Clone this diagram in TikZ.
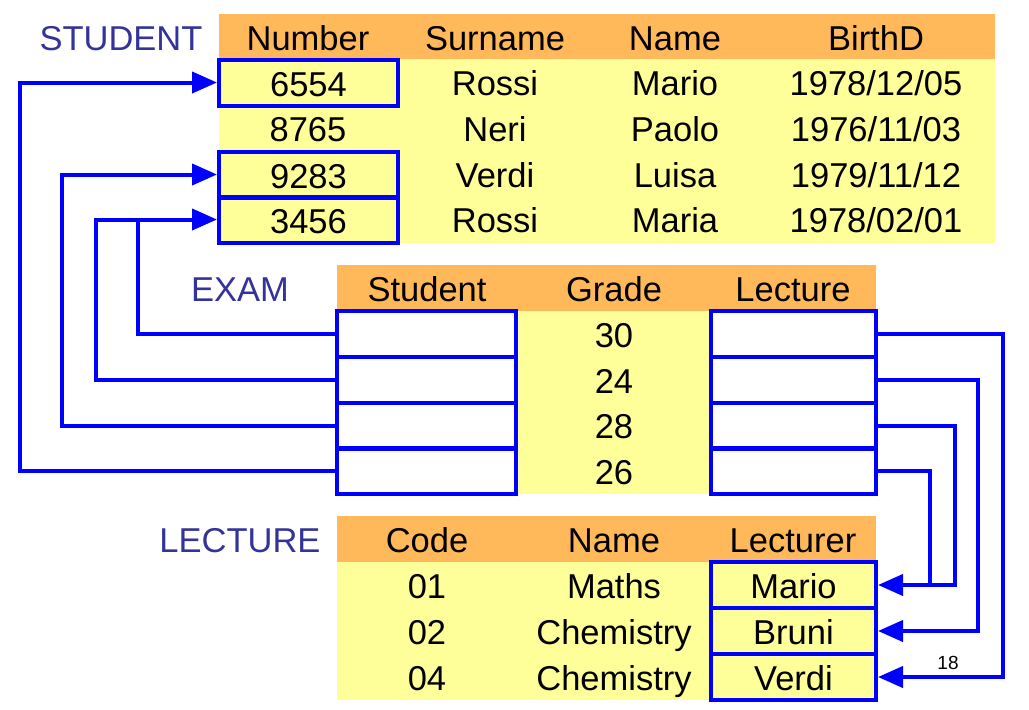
\documentclass[tikz,border=0pt]{standalone}
\usepackage{fontspec}
\setmainfont{Liberation Sans}
\usetikzlibrary{arrows.meta}
\definecolor{hdr}{HTML}{FFB95A}
\definecolor{bodyc}{HTML}{FFFF99}
\definecolor{lbl}{HTML}{333399}
\definecolor{lnk}{HTML}{0000FF}
\begin{document}
\begin{tikzpicture}[x=1pt,y=-1pt,
  every node/.style={font=\fontsize{34.5}{40}\selectfont, inner sep=0pt, anchor=center,
    text height=24.7pt, text depth=0pt},
  title/.style={text=lbl},
  bbox/.style={draw=lnk, line width=4pt, minimum width=179pt, minimum height=46pt, text height=27.7pt},
  lbox/.style={bbox, minimum width=165pt},
  link/.style={draw=lnk, line width=4pt, -{Triangle[length=25pt,width=21pt]}},
  plain/.style={draw=lnk, line width=4pt}]
\useasboundingbox (0,0) rectangle (1029,710);
% backgrounds
\fill[hdr] (219,14) rectangle (995,59);
\fill[bodyc] (219,59) rectangle (995,243);
\fill[hdr] (337,265) rectangle (876,311);
\fill[bodyc] (516,311) rectangle (711,494);
\fill[hdr] (337,516) rectangle (876,562);
\fill[bodyc] (337,562) rectangle (876,700);
% titles
\node[title] (tstud) at (121,38) {STUDENT};
\node[title] (texam) at (240,289) {EXAM};
\node[title] (tlect) at (240,540) {LECTURE};
% STUDENT table
\node (h1) at (308,38) {Number};
\node (h2) at (495,38) {Surname};
\node (h3) at (675,38) {Name};
\node (h4) at (876,38) {BirthD};
\node[bbox] (s1) at (308.5,82.5) {6554};
\node (s2) at (308,129) {8765};
\node[bbox] (s3) at (308.5,174.5) {9283};
\node[bbox] (s4) at (308.5,219.5) {3456};
\node (s1b) at (495,83.5) {Rossi};
\node (s2b) at (495,129) {Neri};
\node (s3b) at (495,175) {Verdi};
\node (s4b) at (495,220.5) {Rossi};
\node (s1c) at (675,83.5) {Mario};
\node (s2c) at (675,129) {Paolo};
\node (s3c) at (675,175) {Luisa};
\node (s4c) at (675,220.5) {Maria};
\node (s1d) at (876,83.5) {1978/12/05};
\node (s2d) at (876,129) {1976/11/03};
\node (s3d) at (876,175) {1979/11/12};
\node (s4d) at (876,220.5) {1978/02/01};
% EXAM table
\node (eh1) at (427,289) {Student};
\node (eh2) at (614,289) {Grade};
\node (eh3) at (793,289) {Lecture};
\node[bbox] (e1) at (426.5,334) {};
\node[bbox] (e2) at (426.5,380) {};
\node[bbox] (e3) at (426.5,425.5) {};
\node[bbox] (e4) at (426.5,471) {};
\node (g1) at (614,335) {30};
\node (g2) at (614,381) {24};
\node (g3) at (614,426) {28};
\node (g4) at (614,472) {26};
\node[lbox] (l1) at (793.5,334) {};
\node[lbox] (l2) at (793.5,380) {};
\node[lbox] (l3) at (793.5,425.5) {};
\node[lbox] (l4) at (793.5,471) {};
% LECTURE table
\node (ch1) at (427,540) {Code};
\node (ch2) at (614,540) {Name};
\node (ch3) at (793,540) {Lecturer};
\node (c1) at (427,586) {01};
\node (c2) at (427,632) {02};
\node (c3) at (427,678) {04};
\node (n1) at (614,586) {Maths};
\node (n2) at (614,632) {Chemistry};
\node (n3) at (614,678) {Chemistry};
\node[lbox] (r1) at (793.5,585) {Mario};
\node[lbox] (r2) at (793.5,631) {Bruni};
\node[lbox] (r3) at (793.5,677) {Verdi};
% connector columns
\coordinate (x1) at (138,0);
\coordinate (x2) at (96,0);
\coordinate (x3) at (62,0);
\coordinate (x4) at (20,0);
\coordinate (y1) at (1003,0);
\coordinate (y2) at (978,0);
\coordinate (y3) at (955,0);
\coordinate (y4) at (930,0);
% left connectors
\draw[link] (e2.west) -| (x2 |- s4.west) -- (s4.west);
\coordinate (j1) at (x1 |- s4.west);
\draw[plain] (e1.west) -| (j1);
\draw[link] (e3.west) -| (x3 |- s3.west) -- (s3.west);
\draw[link] (e4.west) -| (x4 |- s1.west) -- (s1.west);
% right connectors
\draw[link] (l1.east) -| (y1 |- r3.east) -- (r3.east);
\draw[link] (l2.east) -| (y2 |- r2.east) -- (r2.east);
\draw[link] (l3.east) -| (y3 |- r1.east) -- (r1.east);
\coordinate (j2) at (y4 |- r1.east);
\draw[plain] (l4.east) -| (j2);
\node[font=\fontsize{19}{22}\selectfont, text height=13.6pt] (pg) at (948,663) {18};
\end{tikzpicture}
\end{document}
